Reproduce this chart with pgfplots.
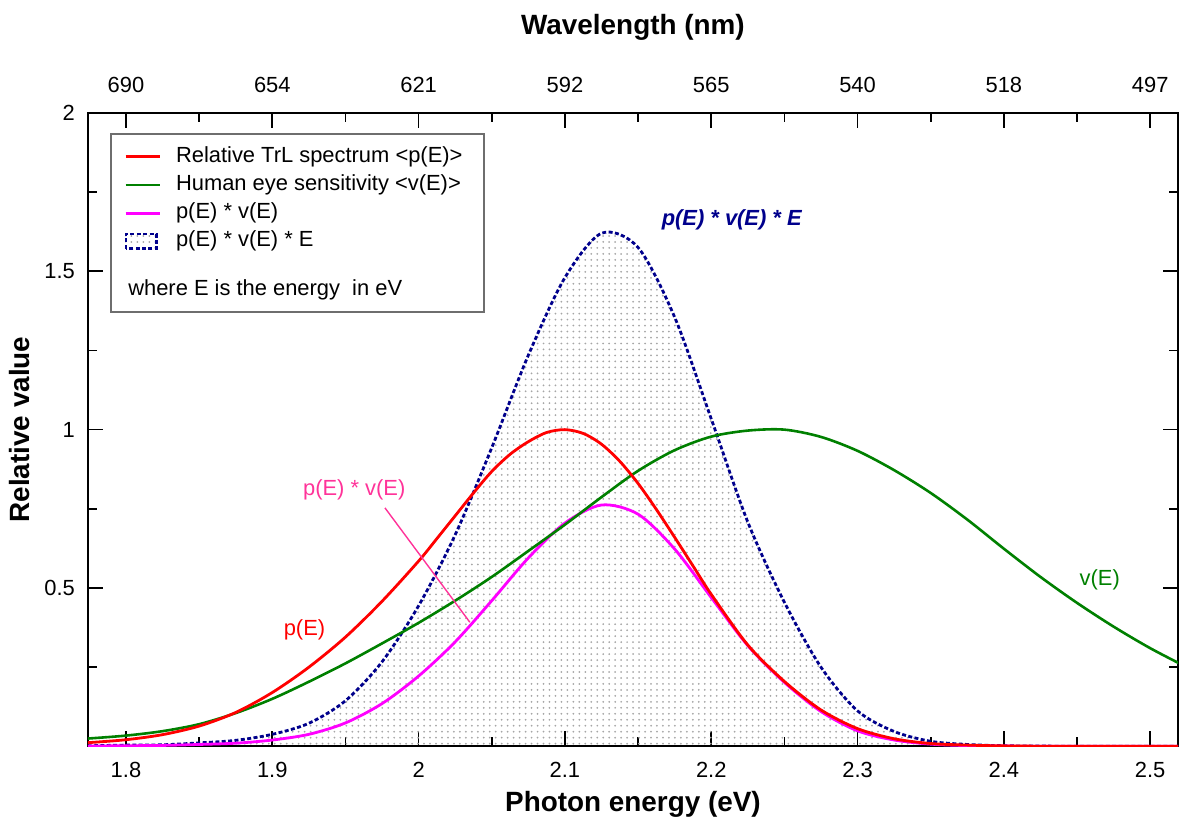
\documentclass[border=0pt]{standalone}
\usepackage{pgfplots}
\pgfplotsset{compat=1.18}
\usepackage{pgfplotstable}
\usetikzlibrary{patterns}
\usepackage{fontspec}
\setmainfont{Liberation Sans}
\definecolor{cred}{RGB}{255,0,0}
\definecolor{cgreen}{RGB}{0,128,0}
\definecolor{cmag}{RGB}{255,0,255}
\definecolor{cblue}{RGB}{0,0,140}
\definecolor{cpink}{RGB}{255,51,153}
\definecolor{cframe}{RGB}{110,110,110}

\pgfplotstableread{
E      v      m       b
1.765  0.022  0.001   0.002
1.775  0.025  0.001   0.002
1.800  0.034  0.002   0.004
1.825  0.048  0.003   0.005
1.850  0.070  0.006   0.011
1.875  0.105  0.010   0.019
1.900  0.150  0.020   0.038
1.925  0.204  0.038   0.073
1.950  0.262  0.074   0.144
1.975  0.325  0.135   0.267
2.000  0.390  0.222   0.444
2.025  0.460  0.330   0.668
2.050  0.535  0.460   0.943
2.075  0.617  0.595   1.235
2.100  0.700  0.705   1.480
2.125  0.787  0.762   1.620
2.150  0.870  0.733   1.575
2.175  0.935  0.623   1.355
2.200  0.978  0.470   1.034
2.225  0.997  0.318   0.708
2.250  1.000  0.202   0.455
2.275  0.977  0.110   0.250
2.300  0.933  0.049   0.112
2.325  0.872  0.020   0.047
2.350  0.800  0.007   0.016
2.375  0.716  0.0025  0.006
2.400  0.624  0.001   0.002
2.425  0.535  0.000   0.001
2.450  0.453  0.000   0.000
2.475  0.378  0.000   0.000
2.500  0.310  0.000   0.000
2.525  0.250  0.000   0.000
}\data

\pgfplotstableread{
E       p
1.765   0.010
1.775   0.012
1.800   0.021
1.825   0.037
1.850   0.064
1.875   0.107
1.900   0.170
1.925   0.250
1.950   0.345
1.975   0.458
2.000   0.585
2.0125  0.656
2.025   0.728
2.0375  0.800
2.050   0.868
2.0625  0.922
2.075   0.962
2.0875  0.991
2.100   1.000
2.1125  0.988
2.125   0.954
2.1375  0.900
2.150   0.830
2.1625  0.748
2.175   0.660
2.1875  0.570
2.200   0.480
2.225   0.320
2.250   0.205
2.275   0.115
2.300   0.056
2.325   0.024
2.350   0.009
2.375   0.004
2.400   0.0015
2.425   0.0005
2.450   0.000
2.525   0.000
}\red

\begin{document}
\begin{tikzpicture}
\begin{axis}[
  name=main,
  scale only axis, width=545.5bp, height=317bp,
  xmin=1.774, xmax=2.519, ymin=0, ymax=2,
  axis line style={line width=1bp},
  xtick={1.8,1.9,2.0,2.1,2.2,2.3,2.4,2.5},
  minor xtick={1.85,1.95,2.05,2.15,2.25,2.35,2.45},
  ytick={0.5,1,1.5,2},
  minor ytick={0.25,0.75,1.25,1.75},
  xtick pos=both, ytick pos=both,
  xticklabel pos=lower, yticklabel pos=left,
  tick align=inside,
  major tick length=7.5bp, minor tick length=4.5bp,
  tick style={line width=0.8bp, black},
  /pgf/number format/assume math mode=true,
  ticklabel style={font=\fontsize{11}{13}\selectfont},
  xticklabel style={yshift=-4.5bp},
  yticklabel style={xshift=-3bp},
  xlabel={Photon energy (eV)},
  ylabel={Relative value},
  label style={font=\fontsize{14}{16}\selectfont\bfseries},
  xlabel style={at={(axis description cs:0.5,0)}, anchor=base, yshift=-32.5bp},
  ylabel style={yshift=0.5bp},
  legend style={at={(rel axis cs:0.033,0.953)}, anchor=north west,
    draw=none, fill=none, inner sep=0pt, column sep=6bp,
    font=\fontsize{11}{13}\selectfont, row sep=0.3bp,
    nodes={inner sep=1.5bp, text height=8.2bp, text depth=2.6bp}},
  legend cell align=left,
]
% dotted fill under p*v*E
\addplot[draw=none, pattern=dots, pattern color=gray!70, smooth, forget plot]
  table[x=E,y=b]{\data} \closedcycle;
\addplot[cblue, line width=1.4bp, dash pattern=on 2bp off 1.2bp, smooth, forget plot]
  table[x=E,y=b]{\data};
\addplot[cmag, line width=1.4bp, smooth, forget plot] table[x=E,y=m]{\data};
\addplot[cgreen, line width=1.3bp, smooth, forget plot] table[x=E,y=v]{\data};
\addplot[cred, line width=1.4bp, smooth, forget plot] table[x=E,y=p]{\red};

\addlegendimage{cred, line width=1.4bp}
\addlegendentry{Relative TrL spectrum <p(E)>}
\addlegendimage{cgreen, line width=1.4bp}
\addlegendentry{Human eye sensitivity <v(E)>}
\addlegendimage{cmag, line width=1.4bp}
\addlegendentry{p(E) * v(E)}
\addlegendimage{legend image code/.code={
  \draw[cblue, line width=1.2bp, dash pattern=on 2bp off 1.2bp, pattern=dots, pattern color=gray!70]
  (0bp,-3.6bp) rectangle (15.5bp,3.6bp);}}
\addlegendentry{p(E) * v(E) * E}

\draw[cframe, line width=1bp] (rel axis cs:0.0211,0.686) rectangle (rel axis cs:0.363,0.967);
\node[anchor=west, font=\fontsize{11}{13}\selectfont, inner sep=0pt] at (rel axis cs:0.0367,0.721) {where E is the energy\ \ in eV};

\node[cblue, font=\fontsize{11}{13}\selectfont\bfseries\itshape] at (axis cs:2.214,1.661) {p(E) * v(E) * E};
\node[cpink, font=\fontsize{11}{13}\selectfont] at (axis cs:1.956,0.81) {p(E) * v(E)};
\draw[cpink, line width=0.7bp] (axis cs:1.977,0.753) -- (axis cs:2.035,0.392);
\node[cred, font=\fontsize{11}{13}\selectfont] at (axis cs:1.922,0.367) {p(E)};
\node[cgreen, font=\fontsize{11}{13}\selectfont] at (axis cs:2.4655,0.525) {v(E)};

\coordinate (sw) at (rel axis cs:0,0);
\coordinate (ne) at (rel axis cs:1,1);
\end{axis}
\begin{axis}[
  scale only axis, width=545.5bp, height=317bp,
  xmin=1.774, xmax=2.519, ymin=0, ymax=2,
  axis x line*=top, axis y line=none,
  axis line style={line width=1bp},
  xtick={1.8,1.9,2.0,2.1,2.2,2.3,2.4,2.5},
  xticklabels={690,654,621,592,565,540,518,497},
  major tick length=0pt,
  ticklabel style={font=\fontsize{11}{13}\selectfont},
  xticklabel style={yshift=6.5bp},
  xlabel={Wavelength (nm)},
  xlabel style={font=\fontsize{14}{16}\selectfont\bfseries, at={(axis description cs:0.5,1)}, anchor=base, yshift=39bp},
]
\end{axis}
\pgfresetboundingbox
\path ([shift={(-44bp,-37.5bp)}]sw) rectangle ([shift={(0.5bp,56.5bp)}]ne);
\end{tikzpicture}
\end{document}
